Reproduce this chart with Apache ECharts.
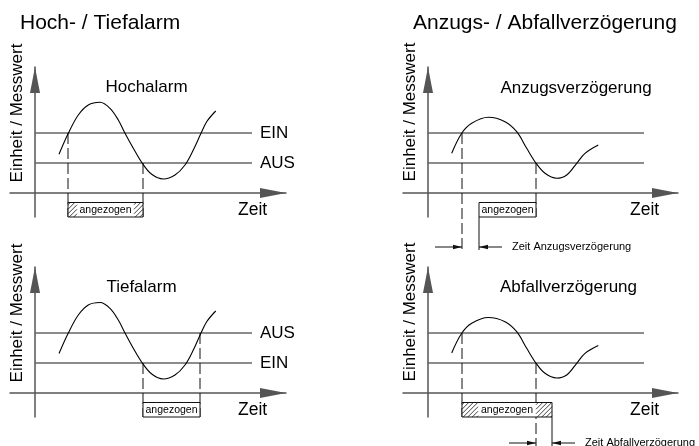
<!DOCTYPE html>
<html><head><meta charset="utf-8">
<script src="https://cdn.jsdelivr.net/npm/echarts@6/dist/echarts.min.js"></script>
<style>html,body{margin:0;padding:0;background:#fff}#c{width:699px;height:446px}</style>
</head><body><div id="c"></div>
<script>
// ---------- texts ----------
const titles = ['Hoch- / Tiefalarm', 'Anzugs- / Abfallverzögerung'];
const panelNames = ['Hochalarm', 'Tiefalarm', 'Anzugsverzögerung', 'Abfallverzögerung'];
const yName = 'Einheit / Messwert';
const xName = 'Zeit';
const relayText = 'angezogen';
const delayTexts = ['Zeit Anzugsverzögerung', 'Zeit Abfallverzögerung'];

// ---------- data (time, measured value) ----------
const hochCurve = [[24,38.7],[33.3,59.7],[43.3,78],[53.3,88],[65,90.7],[75,84.7],[83.3,73],[90,59.7],[98.3,44.7],[107.3,29.7],[116.7,18.7],[128.3,14],[140,18],[150,28],[158.3,43],[166,59.7],[171.7,71.3],[180.7,82]];
const hochLevelNames = ['EIN', 'AUS'];
const hochLevels = [60, 30];
const hochRelay = [33, 108];        // on, off
const hochHatch = [9, 9];

const tiefCurve = [[24,39.5],[33.3,60],[43.3,78],[53.3,88],[65,90.5],[75,84.7],[83.3,73],[90,60],[98.3,44.7],[107.3,30],[116.7,19],[128.3,14],[140,18],[150,28],[158.3,43],[166,60],[171.7,71.3],[180.7,82]];
const tiefLevelNames = ['AUS', 'EIN'];
const tiefLevels = [60, 30];
const tiefRelay = [108, 165];
const tiefHatch = [0, 0];

const anzugCurve = [[23.7,39.7],[33.7,59.7],[43.7,69.7],[60.3,75.7],[77,71.3],[88.7,61.3],[98.7,44.7],[107.7,30.3],[117,19.7],[128.7,14.7],[138.7,18],[148.7,29.7],[157,39.7],[170.3,48]];
const anzugLevels = [60, 30];
const anzugCross = [34, 108];
const anzugRelay = [51, 108];
const anzugHatch = [0, 0];
const anzugDelay = [34, 51];

const abfallCurve = [[23.7,40],[33.7,59.7],[43.7,69.7],[60.3,75.5],[77,71.3],[88.7,61.3],[98.7,44.7],[107.7,30.3],[117,19.7],[128.7,15],[138.7,18],[148.7,29.7],[157,39.7],[170.3,47.5]];
const abfallLevels = [60, 30];
const abfallCross = [34, 108];
const abfallRelay = [34, 124];
const abfallHatch = [16, 16];
const abfallDelay = [108, 124];

// ---------- styling / layout ----------
const FONT = '"Liberation Sans", Arial, Helvetica, sans-serif';
const AXIS_C = '#555', LEVEL_C = '#666', INK = '#111';
const BOX_TOP = -9.5, BOX_BOTTOM = -24;
const grids = [
  {left: 10, top: 67, width: 276, height: 150, xMin: -25, xMax: 251},
  {left: 10, top: 267, width: 276, height: 150, xMin: -25, xMax: 251},
  {left: 403, top: 67, width: 275, height: 150, xMin: -25, xMax: 250},
  {left: 403, top: 267, width: 275, height: 150, xMin: -25, xMax: 250}
];
const levelEnd = [217, 217, 216, 216];

function hatch(children, a, b, t, btm) {
  if (b - a < 1) return;
  const s = 4.5;
  for (let k = a + t + s / 2; k < b + btm; k += s) {
    const xmin = Math.max(a, k - btm), xmax = Math.min(b, k - t);
    if (xmax - xmin > 0.5) children.push({type: 'line', shape: {x1: xmin, y1: k - xmin, x2: xmax, y2: k - xmax}, style: {stroke: INK, lineWidth: 0.8}});
  }
}
function boxRender(params, api) {
  const a = api.value(0), b = api.value(1), hl = api.value(2), hr = api.value(3);
  const p0 = api.coord([a, BOX_TOP]), p1 = api.coord([b, BOX_BOTTOM]);
  const xl = api.coord([hl, 0])[0], xr = api.coord([hr, 0])[0];
  const children = [{type: 'rect', shape: {x: p0[0], y: p0[1], width: p1[0] - p0[0], height: p1[1] - p0[1]}, style: {fill: '#fff', stroke: INK, lineWidth: 1}}];
  hatch(children, p0[0], xl, p0[1], p1[1]);
  hatch(children, xr, p1[0], p0[1], p1[1]);
  children.push({type: 'text', style: {text: relayText, x: (xl + xr) / 2, y: (p0[1] + p1[1]) / 2 + 0.5, align: 'center', verticalAlign: 'middle', textAlign: 'center', textVerticalAlign: 'middle', fontSize: 10.5, fontFamily: FONT, fill: '#000'}});
  return {type: 'group', children};
}
function arrowRender(params, api) {
  const p = api.coord([api.value(0), api.value(2)]), q = api.coord([api.value(1), api.value(2)]);
  const dir = Math.sign(q[0] - p[0]), L = 9, W = 2.3;
  return {type: 'group', children: [
    {type: 'line', shape: {x1: p[0], y1: p[1], x2: q[0], y2: q[1]}, style: {stroke: INK, lineWidth: 1}},
    {type: 'polygon', shape: {points: [[q[0], q[1]], [q[0] - dir * L, q[1] - W], [q[0] - dir * L, q[1] + W]]}, style: {fill: INK}}
  ]};
}
function textRender(params, api) {
  const p = api.coord([api.value(0), api.value(1)]);
  return {type: 'text', style: {text: params.seriesName, x: p[0], y: p[1], align: 'left', verticalAlign: 'middle', textAlign: 'left', textVerticalAlign: 'middle', fontSize: 11, fontFamily: FONT, fill: '#000'}};
}

const grid = [], xAxis = [], yAxis = [], series = [];
grids.forEach((g, i) => {
  grid.push({left: g.left, top: g.top, width: g.width, height: g.height, containLabel: false, outerBoundsMode: 'none'});
  const line = {show: true, onZero: true, symbol: ['none', 'triangle'], symbolSize: [10, 26], symbolOffset: [0, -13], lineStyle: {color: AXIS_C, width: 1.5}};
  xAxis.push({type: 'value', gridIndex: i, min: g.xMin, max: g.xMax, axisLine: line, axisTick: {show: false}, axisLabel: {show: false}, splitLine: {show: false}});
  yAxis.push({type: 'value', gridIndex: i, min: -24, max: 126, axisLine: line, axisTick: {show: false}, axisLabel: {show: false}, splitLine: {show: false}});
});

function seg(i, pts, dashed, name) {
  series.push({type: 'line', name: name || '', xAxisIndex: i, yAxisIndex: i, data: pts, symbol: 'none', clip: false, silent: true, z: 3,
    lineStyle: {color: INK, width: 1, type: dashed ? [11, 4] : 'solid'}});
}
function levels(i, vals, names) {
  vals.forEach((v, k) => {
    series.push({type: 'line', name: names ? names[k] : '', xAxisIndex: i, yAxisIndex: i, data: [[0, v], [levelEnd[i], v]], symbol: 'none', silent: true, z: 2,
      lineStyle: {color: LEVEL_C, width: 1.3},
      endLabel: {show: !!names, formatter: '{a}', distance: 8, fontSize: 17, fontFamily: FONT, color: '#000'}});
  });
}
function curve(i, pts) {
  series.push({type: 'line', xAxisIndex: i, yAxisIndex: i, data: pts, smooth: 0.35, symbol: 'none', silent: true, z: 4, clip: false,
    lineStyle: {color: '#000', width: 1.1}});
}
function box(i, relay, h) {
  series.push({type: 'custom', xAxisIndex: i, yAxisIndex: i, renderItem: boxRender, z: 5, silent: true,
    data: [[relay[0], relay[1], relay[0] + h[0], relay[1] - h[1]]]});
}
function dim(i, delay, yLevel, txt) {
  series.push({type: 'custom', xAxisIndex: i, yAxisIndex: i, renderItem: arrowRender, z: 5, silent: true,
    data: [[delay[0] - 27, delay[0], yLevel], [delay[1] + 23, delay[1], yLevel]]});
  series.push({type: 'custom', name: txt, xAxisIndex: i, yAxisIndex: i, renderItem: textRender, z: 5, silent: true,
    data: [[delay[1] + 33, yLevel]]});
}

// panel 0: Hochalarm
curve(0, hochCurve);
levels(0, hochLevels, hochLevelNames);
seg(0, [[hochRelay[0], hochLevels[0]], [hochRelay[0], BOX_BOTTOM]], true);
seg(0, [[hochRelay[1], hochLevels[1]], [hochRelay[1], BOX_BOTTOM]], true);
box(0, hochRelay, hochHatch);
// panel 1: Tiefalarm
curve(1, tiefCurve);
levels(1, tiefLevels, tiefLevelNames);
seg(1, [[tiefRelay[0], tiefLevels[1]], [tiefRelay[0], BOX_BOTTOM]], true);
seg(1, [[tiefRelay[1], tiefLevels[0]], [tiefRelay[1], BOX_BOTTOM]], true);
box(1, tiefRelay, tiefHatch);
// panel 2: Anzugsverzögerung
curve(2, anzugCurve);
levels(2, anzugLevels, null);
seg(2, [[anzugCross[0], anzugLevels[0]], [anzugCross[0], -57]], true);
seg(2, [[anzugCross[1], anzugLevels[1]], [anzugCross[1], BOX_BOTTOM]], true);
seg(2, [[anzugRelay[0], BOX_BOTTOM], [anzugRelay[0], -57]], false);
box(2, anzugRelay, anzugHatch);
dim(2, anzugDelay, -54, delayTexts[0]);
// panel 3: Abfallverzögerung
curve(3, abfallCurve);
levels(3, abfallLevels, null);
seg(3, [[abfallCross[0], abfallLevels[0]], [abfallCross[0], BOX_BOTTOM]], true);
seg(3, [[abfallCross[1], abfallLevels[1]], [abfallCross[1], -56]], true);
seg(3, [[abfallRelay[1], BOX_BOTTOM], [abfallRelay[1], -56]], false);
box(3, abfallRelay, abfallHatch);
dim(3, abfallDelay, -50, delayTexts[1]);

function txt(text, x, y, size, align, rot) {
  return {type: 'text', x, y, rotation: rot || 0, silent: true,
    style: {text, fontSize: size, fontFamily: FONT, fill: '#000', align: align, textAlign: align, verticalAlign: 'middle', textVerticalAlign: 'middle'}};
}
const graphic = [
  txt(titles[0], 20, 23, 21, 'left'),
  txt(titles[1], 413, 23, 21, 'left'),
  txt(yName, 17, 113, 17, 'center', Math.PI / 2),
  txt(yName, 17, 313, 17, 'center', Math.PI / 2),
  txt(yName, 410, 112, 17, 'center', Math.PI / 2),
  txt(yName, 410, 312, 17, 'center', Math.PI / 2),
  txt(panelNames[0], 146.5, 87, 17, 'center'),
  txt(panelNames[1], 141.5, 287, 17, 'center'),
  txt(panelNames[2], 576, 88, 17, 'center'),
  txt(panelNames[3], 568.5, 287, 17, 'center'),
  txt(xName, 238, 210, 17.5, 'left'),
  txt(xName, 238, 410, 17.5, 'left'),
  txt(xName, 630, 210, 17.5, 'left'),
  txt(xName, 630, 410, 17.5, 'left')
];

const chart = echarts.init(document.getElementById('c'), null, {renderer: 'canvas'});
chart.setOption({animation: false, backgroundColor: '#fff', grid, xAxis, yAxis, series, graphic});
</script></body></html>
